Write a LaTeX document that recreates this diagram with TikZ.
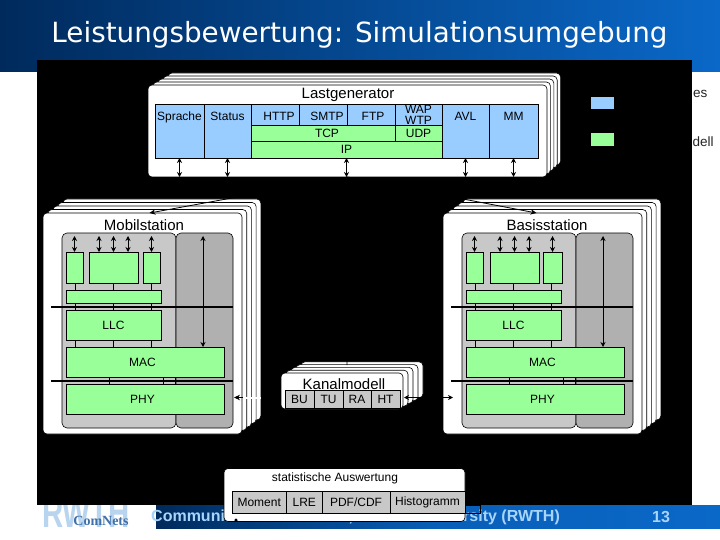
\documentclass[tikz,border=0pt]{standalone}
\usepackage{fontspec}
\usepackage{xcolor}
\setmainfont{Liberation Sans}
\newfontfamily\titlefont{DejaVu Sans}
\newfontfamily\logofont{Liberation Serif}
\usetikzlibrary{arrows.meta, positioning, calc}

\definecolor{boxblue}{HTML}{99CCFF}
\definecolor{boxgreen}{HTML}{99FF99}
\definecolor{panellight}{HTML}{C8C8C8}
\definecolor{paneldark}{HTML}{B0B0B0}
\definecolor{navy}{HTML}{002A5C}
\definecolor{slideblue}{HTML}{0A68C8}
\definecolor{footertext}{HTML}{A8D4FA}
\definecolor{logoblue}{HTML}{B8D4EE}
\definecolor{logotext}{HTML}{3F70A8}

\begin{document}
\begin{tikzpicture}[
    x=1pt, y=-1pt,
    card/.style={rectangle, draw=black, fill=white, line width=0.6pt, rounded corners=4pt, inner sep=0pt, outer sep=0pt},
    cell/.style={rectangle, draw=black, fill=#1, line width=0.6pt, inner sep=0pt, outer sep=0pt, anchor=north west, font=\fontsize{12}{11}\selectfont, align=center},
    cell/.default={boxgreen},
    tallcell/.style={cell=boxblue, text height=17pt, text depth=37pt},
    rowcell/.style={cell=boxblue, text height=17pt, text depth=4pt},
    panel/.style={rectangle, draw=black, fill=#1, line width=0.6pt, rounded corners=5pt, inner sep=0pt, outer sep=0pt, anchor=north west, minimum height=195pt},
    heading/.style={font=\fontsize{15}{15}\selectfont, inner sep=0pt},
    link/.style={{Stealth[length=5pt,width=5pt]}-{Stealth[length=5pt,width=5pt]}, black, line width=0.8pt},
    feed/.style={-{Stealth[length=6pt,width=5.5pt]}, black, line width=0.8pt},
    stem/.style={black, line width=0.6pt},
    layerline/.style={black, line width=1.5pt},
    swatch/.style={rectangle, fill=#1, inner sep=0pt, minimum width=23pt, minimum height=12.5pt},
]
    \useasboundingbox (0,0) rectangle (720,540);
    \fill[white] (0,0) rectangle (720,540);

    % Slide header and footer
    \shade[left color=navy, right color=slideblue] (0,0) rectangle (720,72);
    \shade[left color=navy, right color=slideblue, middle color=slideblue!85!navy] (156,505) rectangle (720,528);
    \node[font=\bfseries\fontsize{42}{42}\selectfont, text=logoblue, inner sep=0pt, anchor=base west, xscale=0.7, transform shape] (rwth) at (42,527) {RWTH};
    \node[font=\fontsize{16}{16}\selectfont\bfseries, text=footertext, inner sep=0pt, anchor=west] (footer) at (151,517) {Communication Networks, Aachen University (RWTH)};
    \node[font=\fontsize{16}{16}\selectfont\bfseries, text=footertext, inner sep=0pt] (pageno) at (661,517) {13};
    \node[font=\titlefont\fontsize{27.8}{27.8}\selectfont, text=white, inner sep=0pt] (slidetitle) at (359.5,35) {Leistungsbewertung: Simulationsumgebung};
    \node[font=\fontsize{13.5}{13.5}\selectfont, text=black!85, inner sep=0pt, anchor=west] (legendes) at (693,94) {es};
    \node[font=\fontsize{13.5}{13.5}\selectfont, text=black!85, inner sep=0pt, anchor=west] (legenddell) at (692.5,142) {dell};

    % Black picture area
    \fill[black] (37,60) rectangle (692,505);
    \node[font=\logofont\bfseries\fontsize{14}{14}\selectfont, text=logotext, inner sep=0pt] (comnets) at (101,520.5) {ComNets};
    \node[swatch=boxblue] (legendblue) at (602.5,103) {};
    \node[swatch=boxgreen] (legendgreen) at (602.5,139.5) {};

    % Lastgenerator
    \foreach \i in {4,3,2,1,0}
        \node[card, anchor=north west, minimum width={(399-1.6*\i)*1pt}, minimum height=92pt] (lg\i) at (148+5*\i, 85-3*\i) {};
    \node[heading] (lgtitle) at (348,95) {Lastgenerator};
    \node[tallcell, minimum width=49pt] (sprache) at (155,104) {Sprache};
    \node[tallcell, minimum width=47pt] (status) at (sprache.north east) {Status};
    \node[rowcell, minimum width=48pt] (http) at (status.north east) {\hspace*{8pt}HTTP};
    \node[rowcell, minimum width=48pt] (smtp) at (http.north east) {\hspace*{8pt}SMTP};
    \node[rowcell, minimum width=48pt] (ftp) at (smtp.north east) {\hspace*{4pt}FTP};
    \node[cell=boxblue, minimum width=47pt, minimum height=21pt] (wap) at (ftp.north east) {WAP\\WTP};
    \node[tallcell, minimum width=47pt] (avl) at (wap.north east) {AVL};
    \node[tallcell, minimum width=49pt] (mm) at (avl.north east) {MM};
    \node[cell, minimum width=144pt, minimum height=16pt] (tcp) at (http.south west) {\hspace*{8pt}TCP};
    \node[cell, minimum width=47pt, minimum height=16pt] (udp) at (tcp.north east) {UDP};
    \node[cell, minimum width=191pt, minimum height=17pt] (ip) at (tcp.south west) {IP};
    \foreach \n in {sprache,status,ip,avl,mm}
        \draw[link] (\n.south) -- (\n.south |- lg0.south);

    % Mobilstation and Basisstation
    \foreach \st/\dx/\stname/\tx/\mx/\sw in {ms/0/Mobilstation/144/89/17, bs/400/Basisstation/147/90/19} {
    \begin{scope}[shift={(\dx,0)}]
        \foreach \i in {4,3,2,1,0}
            \node[card, anchor=north west, minimum width={(199-0.3*\i)*1pt}, minimum height=221pt] (\st\i) at (43+5*\i, 213-3.5*\i) {};
        \node[heading] (\st title) at (\tx,225.5) {\stname};
        \node[panel=panellight, minimum width=114pt] (\st grey) at (62,233) {};
        \node[panel=paneldark, minimum width=57pt] (\st dark) at (176,233) {};
        % stems between the layers
        \foreach \o in {-38,0,38}
            \draw[stem] ($(\st grey.north west)+(51.5+\o,50)$) -- ++(0,64);
        \node[cell, minimum width=17pt, minimum height=31pt] (\st a) at (66,252) {};
        \node[cell, minimum width=49pt, minimum height=31pt] (\st b) at (\mx,252) {};
        \node[cell, minimum width=\sw pt, minimum height=31pt] (\st c) at (143,252) {};
        \node[cell, minimum width=95pt, minimum height=13pt] (\st bar) at (66,290) {};
        \node[cell, minimum width=95pt, minimum height=30pt] (\st llc) at (66,310) {LLC};
        \node[cell, minimum width=158pt, minimum height=30pt] (\st mac) at (66,347) {\hspace*{-5pt}MAC};
        \node[cell, minimum width=158pt, minimum height=30pt] (\st phy) at (66,384) {\hspace*{-5pt}PHY};
        \foreach \o in {-36,18,30}
            \draw[stem] ([xshift=\o pt]\st mac.south) -- ([xshift=\o pt]\st phy.north);
        \draw[layerline] (51,307) -- (233,307);
        \draw[layerline] (51,381) -- (233,381);
        % service access points
        \draw[link] (\st a.north) -- ++(0,-16);
        \draw[link] (\st c.north) -- ++(0,-16);
        \foreach \o in {-14.5,0,14.5}
            \draw[link] ([xshift=\o pt]\st b.north) -- ++(0,-16);
        \draw[link] (203,236) -- (203,347);
    \end{scope}
    }

    % Kanalmodell
    \foreach \i in {4,3,2,1,0}
        \node[card, anchor=north west, minimum width=122pt, minimum height=36pt] (ka\i) at (281+5*\i, 373-2.8*\i) {};
    \node[heading] (katitle) at (344,384) {Kanalmodell};
    \node[cell=panellight, minimum width=29pt, minimum height=18pt] (bu) at (285,390) {BU};
    \node[cell=panellight, minimum width=29pt, minimum height=18pt] (tu) at (bu.north east) {TU};
    \node[cell=panellight, minimum width=28pt, minimum height=18pt] (ra) at (tu.north east) {RA};
    \node[cell=panellight, minimum width=29pt, minimum height=18pt] (ht) at (ra.north east) {HT};

    % Connectors, black on the black area
    \coordinate (kaport) at (347,365);
    \coordinate (kaleft) at (261,397.5);
    \coordinate (msedge) at (243,397.5);
    \coordinate (mstip) at (234,397.5);
    \coordinate (karight) at (404,397.5);
    \coordinate (bstip) at (453,397.5);
    \draw[feed] (lg0.south) -- ([xshift=7pt]ms0.north);
    \draw[feed] (lg0.south) -- ([xshift=-6pt]bs0.north);
    \draw[stem] (lg0.south) -- (kaport);
    \draw[white, line width=2pt] (kaleft) -- (msedge);
    \draw[feed] (msedge) -- (mstip);
    \draw[link] (karight) -- (bstip);

    % statistische Auswertung
    \draw[black, line width=0.6pt] (465,505) -- (480,505) -- (480,513) -- (465,513);
    \node[card, anchor=north west, minimum width=241pt, minimum height=53pt] (stat) at (224,468.5) {};
    \node[font=\fontsize{12}{12}\selectfont, inner sep=0pt] (stattitle) at (335,478) {statistische Auswertung};
    \node[cell=panellight, minimum width=54.5pt, minimum height=22pt] (moment) at (232,491) {Moment};
    \node[cell=panellight, minimum width=35.5pt, minimum height=22pt] (lre) at (moment.north east) {LRE};
    \node[cell=panellight, minimum width=68pt, minimum height=22pt] (pdf) at (lre.north east) {PDF/CDF};
    \node[cell=panellight, minimum width=75pt, minimum height=22pt] (histo) at (pdf.north east) {Histogramm};
    \node[circle, fill=black, inner sep=0pt, minimum size=3.5pt] (statdot) at (236,520) {};
\end{tikzpicture}
\end{document}
